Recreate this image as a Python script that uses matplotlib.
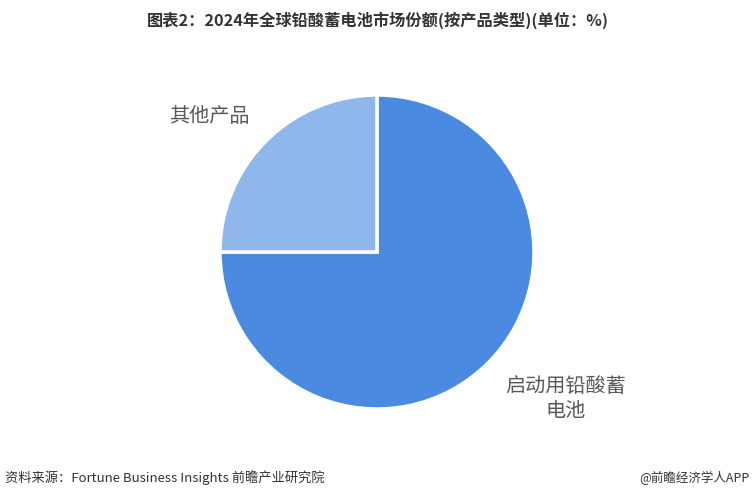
import matplotlib
matplotlib.use('Agg')
import matplotlib.pyplot as plt

plt.rcParams['font.family'] = ['Noto Sans CJK SC', 'DejaVu Sans']

# data
categories = ['启动用铅酸蓄\n电池', '其他产品']
shares = [75, 25]
colors = ['#4a8ae0', '#8fb7ec']

W, H = 755, 500
fig = plt.figure(figsize=(W / 100, H / 100), dpi=100)
fig.patch.set_facecolor('white')

# pie centre (377, 252) px, radius 157 px
cx, cy, r = 377, 252, 157
ax = fig.add_axes([(cx - r) / W, (H - cy - r) / H, 2 * r / W, 2 * r / H])
ax.pie(shares, colors=colors, startangle=90, counterclock=False,
       radius=1.0, wedgeprops=dict(edgecolor='white', linewidth=2.5))
ax.set_xlim(-1, 1)
ax.set_ylim(-1, 1)
ax.set_aspect('equal')
ax.axis('off')

# slice labels
fig.text(209 / W, 1 - 117 / H, categories[1], ha='center', va='center',
         fontsize=14.5, color='#595959')
fig.text(566 / W, 1 - 399 / H, categories[0], ha='center', va='center',
         fontsize=14.5, color='#595959', linespacing=1.3)

# title
fig.text(378 / W, 1 - 20 / H, '图表2：2024年全球铅酸蓄电池市场份额(按产品类型)(单位：%)',
         ha='center', va='center', fontsize=11.7, fontweight='bold', color='#333333')

# footer
fig.text(5 / W, 1 - 478 / H, '资料来源：Fortune Business Insights 前瞻产业研究院',
         ha='left', va='center', fontsize=9.5, color='#333333')
fig.text(750 / W, 1 - 478 / H, '@前瞻经济学人APP',
         ha='right', va='center', fontsize=9, color='#333333')

fig.savefig('out.png', dpi=100, facecolor='white')
